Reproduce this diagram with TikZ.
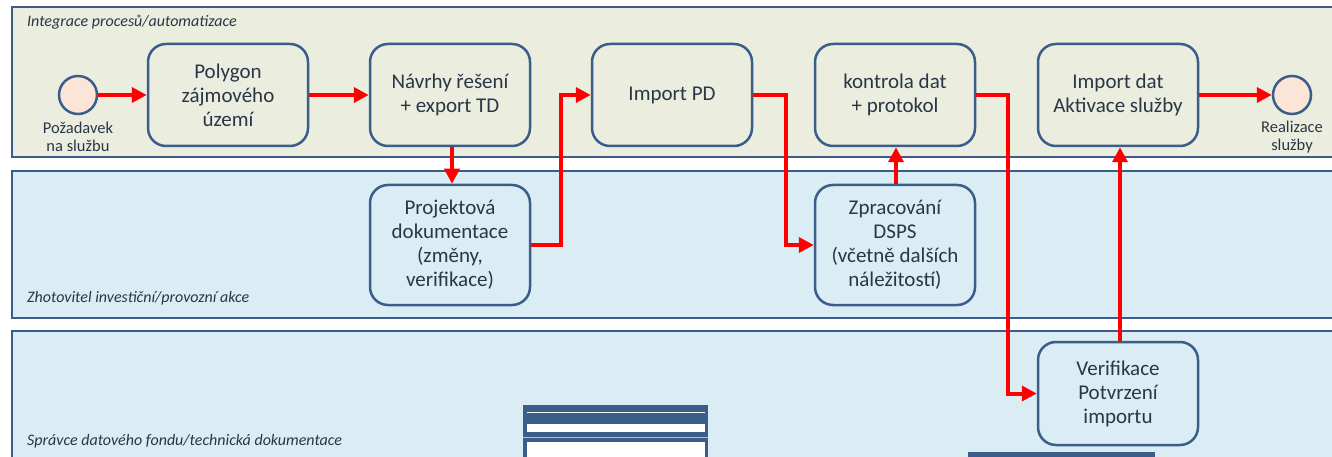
\documentclass[tikz,border=0pt]{standalone}
\usepackage{fontspec}
\setmainfont{Carlito}
\usetikzlibrary{arrows.meta,positioning}
\definecolor{laneA}{HTML}{EBEEDE}
\definecolor{laneB}{HTML}{DBEDF4}
\definecolor{edge}{HTML}{3B5D8A}
\definecolor{txt}{HTML}{2A3646}
\definecolor{evfill}{HTML}{FBE5D7}
\definecolor{flow}{HTML}{FF0000}
\tikzset{
  lane/.style={draw=edge, line width=2.5pt},
  lanelabel/.style={font=\fontsize{16}{18}\selectfont\itshape, text=txt, anchor=west, inner sep=0pt},
  task/.style={draw=edge, line width=2.5pt, rounded corners=18pt, minimum width=160pt, align=center,
    font=\fontsize{21}{24}\selectfont, text=txt, inner sep=0pt},
  event/.style={circle, draw=edge, line width=2.5pt, fill=evfill, minimum size=38pt, inner sep=0pt},
  evlabel/.style={font=\fontsize{16.5}{18}\selectfont, text=txt, align=center, inner sep=0pt},
  flowarrow/.style={draw=flow, line width=4pt, -{Triangle[length=15pt,width=15pt]}},
}
\begin{document}
\begin{tikzpicture}[x=1pt,y=-1pt]
\useasboundingbox (0,0) rectangle (1332,457);
\clip (0,0) rectangle (1332,457);
% lanes
\draw[lane, fill=laneA] (12,7) rectangle (1345,157);
\draw[lane, fill=laneB] (12,171) rectangle (1345,318);
\draw[lane, fill=laneB] (12,331) rectangle (1345,470);
\node[lanelabel] (l1) at (27,22) {Integrace procesů/automatizace};
\node[lanelabel] (l2) at (27,298) {Zhotovitel investiční/provozní akce};
\node[lanelabel] (l3) at (27,441) {Správce datového fondu/technická dokumentace};
% table-like shapes in lane 3
\fill[edge] (523,405) rectangle (708,470);
\fill[white] (527,411.5) rectangle (705,413);
\fill[white] (527,424) rectangle (705,432);
\fill[laneB!70!edge] (523,436.5) rectangle (708,437.5);
\fill[white] (527,442) rectangle (705,470);
\fill[edge] (968,452) rectangle (1155,470);
% events
\node[event] (start) at (78,95) {};
\node[evlabel] (startl) at (78,137) {Požadavek\\na službu};
\node[event] (end) at (1292,95) {};
\node[evlabel] (endl) at (1292,137) {Realizace\\služby};
% tasks
\node[task, fill=laneA, minimum height=102pt] (poly) at (228,95) {Polygon\\zájmového\\území};
\node[task, fill=laneA, minimum height=102pt] (navrh) at (450,95) {Návrhy řešení\\+ export TD};
\node[task, fill=laneA, minimum height=102pt] (imppd) at (672,95) {Import PD};
\node[task, fill=laneA, minimum height=102pt] (kontr) at (895,95) {kontrola dat\\+ protokol};
\node[task, fill=laneA, minimum height=102pt] (impdat) at (1118,95) {Import dat\\Aktivace služby};
\node[task, fill=laneB, minimum height=120pt] (proj) at (450,245) {Projektová\\dokumentace\\(změny,\\verifikace)};
\node[task, fill=laneB, minimum height=120pt] (dsps) at (895,245) {Zpracování\\DSPS\\(včetně dalších\\náležitostí)};
\node[task, fill=laneB, minimum height=103pt] (verif) at (1118,393.5) {Verifikace\\Potvrzení\\importu};
% flows
\draw[flowarrow] (start.east) -- (poly.west);
\draw[flowarrow] (poly.east) -- (navrh.west);
\draw[flowarrow] ([xshift=2pt]navrh.south) -- ([xshift=2pt]proj.north);
\draw[flowarrow] (proj.east) -- ++(30,0) |- (imppd.west);
\draw[flowarrow] (imppd.east) -- ++(33,0) |- (dsps.west);
\draw[flowarrow] ([xshift=1pt]dsps.north) -- ([xshift=1pt]kontr.south);
\draw[flowarrow] (kontr.east) -- ++(32,0) |- (verif.west);
\draw[flowarrow] ([xshift=2pt]verif.north) -- ([xshift=2pt]impdat.south);
\draw[flowarrow] (impdat.east) -- (end.west);
\end{tikzpicture}
\end{document}
